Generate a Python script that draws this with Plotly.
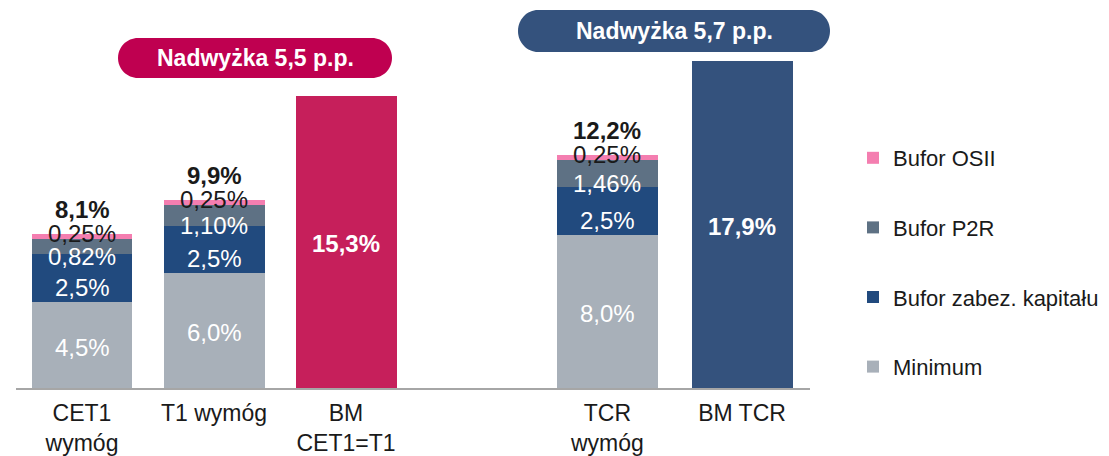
import plotly.graph_objects as go

# ---- data ----
categories = ["CET1<br>wymóg", "T1 wymóg", "BM<br>CET1=T1", "TCR<br>wymóg", "BM TCR"]
cat_x = [0, 1, 2, 3.98, 5.0]

minimum = [4.5, 6.0, 8.0]
bufor_zabez = [2.5, 2.5, 2.5]
bufor_p2r = [0.82, 1.10, 1.46]
bufor_osii = [0.25, 0.25, 0.25]
totals_lbl = ["8,1%", "9,9%", "12,2%"]
minimum_lbl = ["4,5%", "6,0%", "8,0%"]
zabez_lbl = ["2,5%", "2,5%", "2,5%"]
p2r_lbl = ["0,82%", "1,10%", "1,46%"]
osii_lbl = ["0,25%", "0,25%", "0,25%"]

bm_values = [15.3, 17.1]       # bar heights as drawn
bm_lbl = ["15,3%", "17,9%"]

surplus_lbl = ["Nadwyżka 5,5 p.p.", "Nadwyżka 5,7 p.p."]

FONT = "Liberation Sans, Arial, sans-serif"
C_MIN = "#A8B0B9"
C_ZAB = "#214A7E"
C_P2R = "#5E7184"
C_OSII = "#F47EB0"
C_BM1 = "#C61F5B"
C_BM2 = "#34527D"
C_BOX1 = "#BF0050"
C_BOX2 = "#34527D"

xr = [cat_x[i] for i in (0, 1, 3)]
xb = [cat_x[i] for i in (2, 4)]
W = 0.765

fig = go.Figure()
series = [
    ("Minimum", minimum, C_MIN, 4),
    ("Bufor zabez. kapitału", bufor_zabez, C_ZAB, 3),
    ("Bufor P2R", bufor_p2r, C_P2R, 2),
    ("Bufor OSII", bufor_osii, C_OSII, 1),
]
for name, vals, col, rank in series:
    fig.add_trace(go.Bar(x=xr, y=vals, name=name, marker=dict(color=col, line=dict(width=0)),
                         width=W, legendgroup=name, legendrank=rank, hoverinfo="skip"))

fig.add_trace(go.Bar(x=xb, y=bm_values, marker=dict(color=[C_BM1, C_BM2], line=dict(width=0)),
                     width=W, showlegend=False, hoverinfo="skip"))

SZ = 24
ann = []
base = [0, 0, 0]
label_sets = [(minimum, minimum_lbl, "white", -2),
              (bufor_zabez, zabez_lbl, "white", -9),
              (bufor_p2r, p2r_lbl, "white", -10),
              (bufor_osii, osii_lbl, "#1a1a1a", 3)]
for vals, lbls, col, shift in label_sets:
    for i in range(3):
        ann.append(dict(x=xr[i], y=base[i] + vals[i] / 2, text=lbls[i], showarrow=False,
                        xref="x", yref="y", yshift=shift, xanchor="center", yanchor="middle",
                        font=dict(family=FONT, size=SZ, color=col)))
        base[i] += vals[i]
for i in range(3):
    ann.append(dict(x=xr[i], y=base[i], text="<b>" + totals_lbl[i] + "</b>", showarrow=False,
                    xref="x", yref="y", yshift=24, xanchor="center", yanchor="middle",
                    font=dict(family=FONT, size=SZ, color="#1a1a1a")))
for i in range(2):
    ann.append(dict(x=xb[i], y=bm_values[i] / 2, text="<b>" + bm_lbl[i] + "</b>", showarrow=False,
                    xref="x", yref="y", yshift=-2, xanchor="center", yanchor="middle",
                    font=dict(family=FONT, size=SZ, color="white")))

# page body has an 8px margin: screen = figure + 8
OFF = 8
L, R, T, B = 8, 307, 0, 76
PW, PH = 1109 - L - R, 456 - T - B
def sx(s): return (s - OFF - L) / PW
def sy(s): return (456 - B - (s - OFF)) / PH

def pill(x0s, x1s, y0s, y1s, rxp):
    x0, x1, yt, yb = sx(x0s), sx(x1s), sy(y0s), sy(y1s)
    rx = rxp / PW
    ym = (yt + yb) / 2
    ry = (yt - yb) / 2
    k = 0.5523
    return (f"M {x0+rx},{yt} L {x1-rx},{yt} "
            f"C {x1-rx+k*rx},{yt} {x1},{ym+k*ry} {x1},{ym} "
            f"C {x1},{ym-k*ry} {x1-rx+k*rx},{yb} {x1-rx},{yb} "
            f"L {x0+rx},{yb} "
            f"C {x0+rx-k*rx},{yb} {x0},{ym-k*ry} {x0},{ym} "
            f"C {x0},{ym+k*ry} {x0+rx-k*rx},{yt} {x0+rx},{yt} Z")

boxes = [((118, 392, 38, 78), C_BOX1), ((518, 830, 10, 52), C_BOX2)]
shapes = []
for (bx0, bx1, by0, by1), col in boxes:
    shapes.append(dict(type="path", xref="paper", yref="paper", path=pill(bx0, bx1, by0, by1, 20),
                       fillcolor=col, line=dict(width=0), layer="above"))
for j, ((bx0, bx1, by0, by1), col) in enumerate(boxes):
    ann.append(dict(x=sx((bx0 + bx1) / 2), y=sy((by0 + by1) / 2), xref="paper", yref="paper",
                    xanchor="center", yanchor="middle",
                    text="<b>" + surplus_lbl[j] + "</b>", showarrow=False,
                    font=dict(family=FONT, size=23, color="white")))

fig.update_layout(
    width=1109, height=456,
    margin=dict(l=L, r=R, t=T, b=B, autoexpand=False),
    paper_bgcolor="white", plot_bgcolor="white",
    barmode="stack", bargap=0,
    font=dict(family=FONT, size=SZ, color="#1a1a1a"),
    annotations=ann, shapes=shapes,
    showlegend=True,
    legend=dict(x=sx(853), y=sy(137), xanchor="left", yanchor="top",
                traceorder="grouped", tracegroupgap=38,
                font=dict(family=FONT, size=22, color="#1a1a1a"),
                bgcolor="rgba(0,0,0,0)"),
)
fig.update_xaxes(range=[-0.5, 5.515], tickvals=cat_x, ticktext=categories,
                 showgrid=False, zeroline=False, showline=True, linecolor="#A6A6A6", linewidth=2,
                 ticks="", ticklabelstandoff=3,
                 tickfont=dict(family=FONT, size=23, color="#1a1a1a"),
                 automargin=False, fixedrange=True)
fig.update_yaxes(range=[0, 380 / 19.1], visible=False, showgrid=False, zeroline=False, fixedrange=True)

fig.write_html("out.html")
